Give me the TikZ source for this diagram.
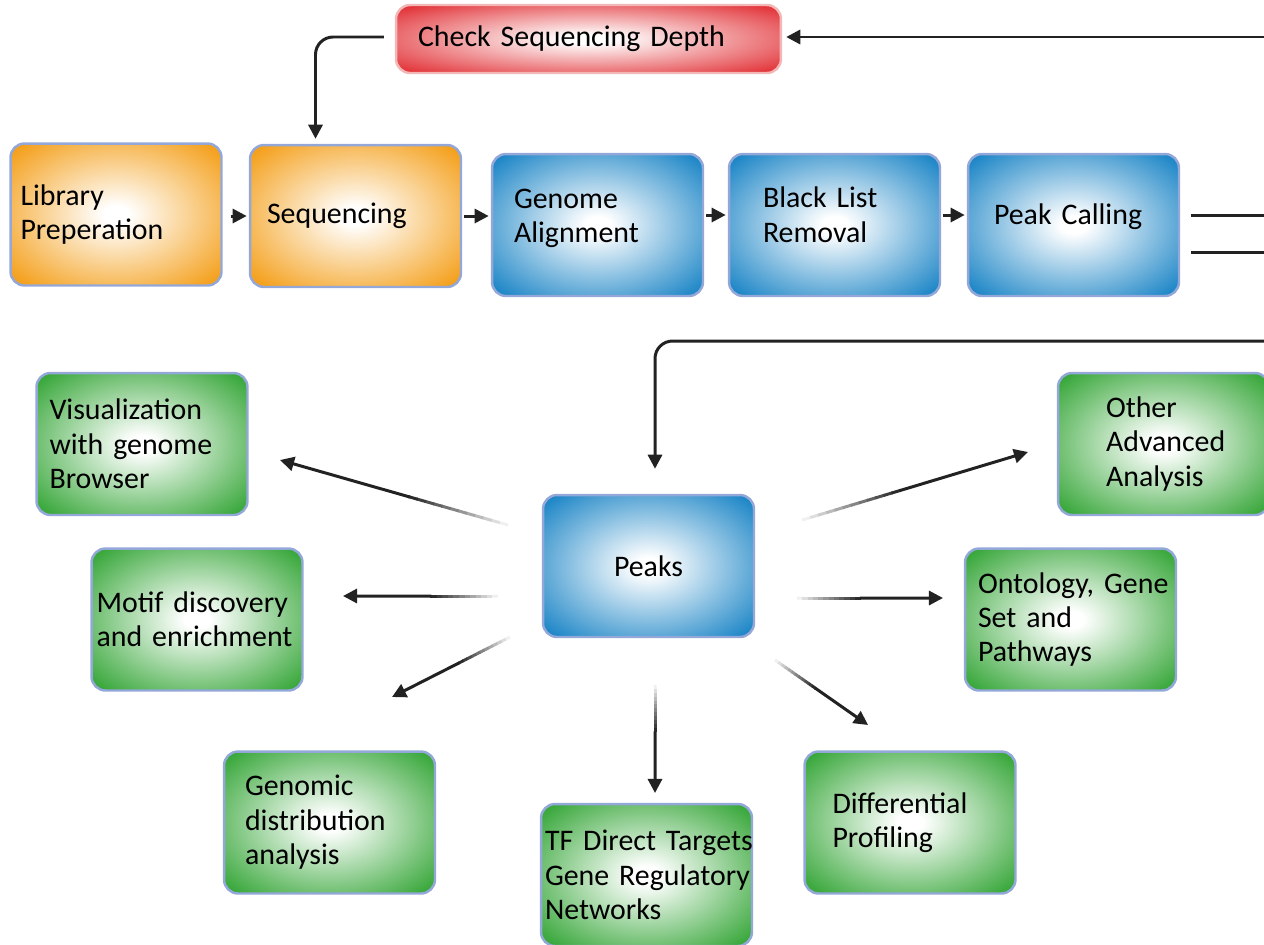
\documentclass[tikz,border=0pt]{standalone}
\usepackage{fontspec}
\setmainfont{Carlito}
\usetikzlibrary{arrows.meta,calc}

\definecolor{boxorange}{HTML}{F4A01C}
\definecolor{boxblue}{HTML}{1F87C7}
\definecolor{boxgreen}{HTML}{3AA83C}
\definecolor{boxred}{HTML}{E2363B}
\definecolor{rim}{HTML}{93A8D8}
\definecolor{pinkrim}{HTML}{F2B8B8}
\definecolor{ink}{HTML}{222222}

\pgfdeclareradialshading{glowOrange}{\pgfpoint{0bp}{0bp}}{color(0bp)=(white); color(3bp)=(white); color(33bp)=(boxorange); color(50bp)=(boxorange)}
\pgfdeclareradialshading{glowBlue}{\pgfpoint{0bp}{0bp}}{color(0bp)=(white); color(3bp)=(white); color(33bp)=(boxblue); color(50bp)=(boxblue)}
\pgfdeclareradialshading{glowGreen}{\pgfpoint{0bp}{0bp}}{color(0bp)=(white); color(3bp)=(white); color(33bp)=(boxgreen); color(50bp)=(boxgreen)}
\pgfdeclareradialshading{glowRed}{\pgfpoint{0bp}{0bp}}{color(0bp)=(white); color(3bp)=(white); color(33bp)=(boxred); color(50bp)=(boxred)}

\tikzset{
  box/.style={rounded corners=8pt, draw=rim, line width=1.4pt, minimum height=2.84cm,
    align=left, inner xsep=#1, text width=4.22cm-2*#1,
    font=\fontsize{17}{19.6}\selectfont},
  box/.default=0.3cm,
  orangebox/.style={box=#1, shade, shading=glowOrange},
  orangebox/.default=0.3cm,
  bluebox/.style={box=#1, shade, shading=glowBlue},
  bluebox/.default=0.3cm,
  greenbox/.style={box=#1, shade, shading=glowGreen},
  greenbox/.default=0.3cm,
  redbox/.style={box=#1, text width=7.7cm-2*#1, minimum height=1.36cm,
    draw=pinkrim, shade, shading=glowRed},
  redbox/.default=0.44cm,
  lift/.style={execute at end node={\rule[-#1]{0pt}{#1}}},
  wire/.style={draw=ink, line width=1.7pt},
  arr/.style={wire, -{Triangle[length=8pt,width=8pt]}},
}

\begin{document}
\begin{tikzpicture}[x=0.02cm, y=-0.02cm]
  \useasboundingbox (0,0) rectangle (1264,944);

  % pipeline
  \node[redbox=0.44cm] (depth) at (588.5,39) {Check Sequencing Depth};
  \node[orangebox=0.2cm] (libprep) at (116,214.5) {Library\\Preperation};
  \node[orangebox=0.34cm] (seq) at (355.5,216) {Sequencing};
  \node[bluebox=0.44cm, lift=0.36cm] (align) at (597.5,225) {Genome\\Alignment};
  \node[bluebox=0.68cm, lift=0.42cm] (blacklist) at (834.5,225) {Black List\\Removal};
  \node[bluebox=0.52cm, lift=0.44cm] (peakcall) at (1073.5,225) {Peak Calling};

  % downstream analysis
  \node[bluebox=0.3cm, align=center] (peaks) at (648.5,566) {Peaks};
  \node[greenbox=0.26cm] (browser) at (142,444) {Visualization\\with genome\\Browser};
  \node[greenbox=0.1cm] (motif) at (197,619.5) {\mbox{Motif discovery}\\\mbox{and enrichment}};
  \node[greenbox=0.42cm] (genomic) at (329.5,822.5) {Genomic\\distribution\\analysis};
  \node[greenbox=0.08cm] (tfnet) at (646.5,875) {\mbox{TF Direct Targets}\\\mbox{Gene Regulatory}\\Networks};
  \node[greenbox=0.56cm] (diffprof) at (910,822.5) {Differential\\Profiling};
  \node[greenbox=0.26cm] (ontology) at (1070.5,619.5) {\mbox{Ontology, Gene}\\Set and\\Pathways};
  \node[greenbox=0.96cm] (advanced) at (1163.5,444) {Other\\Advanced\\Analysis};

  % loose ends beyond the right border
  \coordinate (loopin) at (1270,37);
  \coordinate (outA) at (1270,215);
  \coordinate (outB) at (1270,252);
  \coordinate (loopback) at (1270,341);

  \draw[arr] (loopin) -- ($(loopin -| depth.east)+(4,0)$);
  \draw[arr, rounded corners=10pt] ($(depth.west)+(-11,-2)$) -| ($(seq.north)+(-40,-5)$);

  \draw[arr, shorten <=4.5pt, shorten >=1.2pt] (libprep.east |- seq.east) -- (seq.west);
  \draw[arr, shorten <=1.2pt, shorten >=1.2pt] (seq.east) -- (seq.east -| align.west);
  \draw[arr, shorten <=1.2pt, shorten >=1.2pt] ($(align.east)+(0,-10)$) -- ($(blacklist.west)+(0,-10)$);
  \draw[arr, shorten <=1.2pt, shorten >=1.2pt] ($(blacklist.east)+(0,-10)$) -- ($(peakcall.west)+(0,-10)$);

  \draw[wire, shorten <=6pt] (peakcall.east |- outA) -- (outA);
  \draw[wire, shorten <=6pt] (peakcall.east |- outB) -- (outB);
  \draw[arr, rounded corners=10pt] (loopback) -| ($(peaks.north)+(6.5,-25)$);

  % fading arrows out of the peaks
  \coordinate (fa1) at (508,525);  \coordinate (fb1) at (280,460);
  \coordinate (fa2) at (498,596);  \coordinate (fb2) at (343,596);
  \coordinate (fa3) at (510,637);  \coordinate (fb3) at (392,697);
  \coordinate (fa4) at (655,685);  \coordinate (fb4) at (655,793);
  \coordinate (fa5) at (775,660);  \coordinate (fb5) at (868,725);
  \coordinate (fa6) at (797,598);  \coordinate (fb6) at (943,598);
  \coordinate (fa7) at (802,520);  \coordinate (fb7) at (1028,452);
  \foreach \a/\b in {fa1/fb1, fa2/fb2, fa3/fb3, fa4/fb4, fa5/fb5, fa6/fb6, fa7/fb7}{
    \foreach [evaluate=\i as \s using \i*0.036,
              evaluate=\i as \t using \i*0.036+0.04,
              evaluate=\i as \c using int(6+\i*7)] \i in {0,...,11}
      \draw[line width=1.7pt, black!\c] ($(\a)!\s!(\b)$) -- ($(\a)!\t!(\b)$);
    \draw[arr] ($(\a)!0.43!(\b)$) -- (\b);
  }
\end{tikzpicture}
\end{document}
